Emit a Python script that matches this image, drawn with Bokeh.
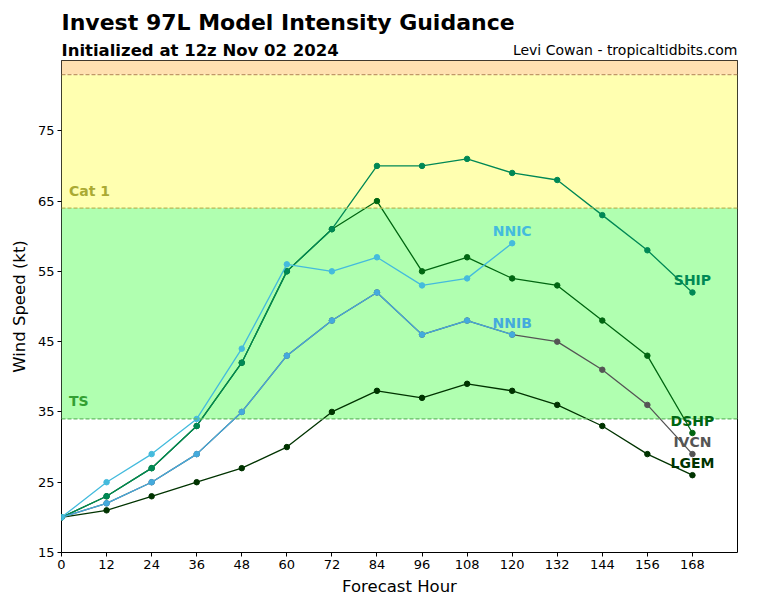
from bokeh.plotting import figure
from bokeh.layouts import column
from bokeh.models import BoxAnnotation, Span, Label, FixedTicker, Range1d, ColumnDataSource
from bokeh.embed import file_html
from bokeh.resources import INLINE

# ---- data ----
hours = [0, 12, 24, 36, 48, 60, 72, 84, 96, 108, 120, 132, 144, 156, 168]
ship = [20, 23, 27, 33, 42, 55, 61, 70, 70, 71, 69, 68, 63, 58, 52]
dshp = [20, 23, 27, 33, 42, 55, 61, 65, 55, 57, 54, 53, 48, 43, 32]
ivcn = [20, 22, 25, 29, 35, 43, 48, 52, 46, 48, 46, 45, 41, 36, 29]
lgem = [20, 21, 23, 25, 27, 30, 35, 38, 37, 39, 38, 36, 33, 29, 26]
nnic = [20, 25, 29, 34, 44, 56, 55, 57, 53, 54, 59]
nnib = [20, 22, 25, 29, 35, 43, 48, 52, 46, 48, 46]

model_names = ["LGEM", "IVCN", "DSHP", "SHIP", "NNIB", "NNIC"]
model_values = [lgem, ivcn, dshp, ship, nnib, nnic]
model_colors = ["#003300", "#555555", "#006611", "#008855", "#44aadd", "#44bbdd"]

thresholds = [34, 64, 83]          # TS, Cat 1, Cat 2
band_labels = ["TS", "Cat 1", ""]
band_fill = ["#b0ffb0", "#ffffb0", "#ffe0b0"]
band_line = ["#66bb66", "#b8b855", "#c09868"]
band_text = ["#33a033", "#aaaa33", "#aa7733"]

x_ticks = list(range(0, 169, 12))
y_ticks = [15, 25, 35, 45, 55, 65, 75]
x_min, x_max = 0, 180
y_min, y_max = 15, 85

title_text = "Invest 97L Model Intensity Guidance"
subtitle_text = "Initialized at 12z Nov 02 2024"
credit_text = "Levi Cowan - tropicaltidbits.com"

FONT = "DejaVu Sans"
W = 768
HEADER_H = 60
ML, MR = 61, 31

# ---- header (titles) ----
hdr = figure(width=W, height=HEADER_H, output_backend="svg", toolbar_location=None,
             x_range=Range1d(x_min, x_max), y_range=Range1d(HEADER_H, 0),
             min_border_left=ML, min_border_right=MR, min_border_top=0, min_border_bottom=0)
hdr.axis.visible = False
hdr.grid.visible = False
hdr.outline_line_color = None
hdr.background_fill_color = "white"
hdr.border_fill_color = "white"
hdr.add_layout(Label(x=x_min, y=22, text=title_text, text_font=FONT, text_font_size="22px",
                     text_font_style="bold", text_color="black", text_baseline="middle"))
hdr.add_layout(Label(x=x_min, y=49.5, text=subtitle_text, text_font=FONT,
                     text_font_size="16.5px", text_font_style="bold", text_color="black",
                     text_baseline="middle"))
hdr.add_layout(Label(x=x_max, y=49.5, text=credit_text, text_font=FONT,
                     text_font_size="14px", text_color="black", text_align="right",
                     text_baseline="middle"))

# ---- main chart ----
p = figure(width=W, height=600 - HEADER_H, output_backend="svg", toolbar_location=None,
           x_range=Range1d(x_min, x_max), y_range=Range1d(y_min, y_max),
           min_border_left=ML, min_border_right=MR, min_border_top=0, min_border_bottom=48)
p.background_fill_color = "white"
p.border_fill_color = "white"
p.outline_line_color = "black"
p.outline_line_width = 1
p.xgrid.visible = False
p.ygrid.visible = False

# bands
tops = thresholds[1:] + [y_max]
for lo, hi, fc in zip(thresholds, tops, band_fill):
    p.add_layout(BoxAnnotation(bottom=lo, top=hi, fill_color=fc, fill_alpha=1.0,
                               line_alpha=0, level="underlay"))
for t, lc in zip(thresholds, band_line):
    p.add_layout(Span(location=t, dimension="width", line_color=lc,
                      line_dash="4 2", line_width=1.2))
for t, lab, tc in zip(thresholds, band_labels, band_text):
    if lab:
        p.add_layout(Label(x=2, y=t + 2.5, text=lab, text_color=tc, text_font=FONT,
                           text_font_size="14px", text_font_style="bold",
                           text_baseline="middle"))

# model lines
for name, vals, col in zip(model_names, model_values, model_colors):
    xs = hours[:len(vals)]
    src = ColumnDataSource(dict(x=xs, y=vals))
    p.line("x", "y", source=src, line_color=col, line_width=1.3)
    p.scatter("x", "y", source=src, size=5.5, fill_color=col, line_color=col)
    p.add_layout(Label(x=xs[-1], y=vals[-1] + 1.7, text=name, text_color=col,
                       text_font=FONT, text_font_size="14px", text_font_style="bold",
                       text_align="center", text_baseline="middle"))

# axes
p.xaxis.ticker = FixedTicker(ticks=x_ticks)
p.yaxis.ticker = FixedTicker(ticks=y_ticks)
for ax in (p.xaxis, p.yaxis):
    ax.major_tick_in = 0
    ax.major_tick_out = 4
    ax.minor_tick_line_color = None
    ax.major_label_text_font = FONT
    ax.major_label_text_font_size = "13px"
    ax.major_label_text_color = "black"
    ax.axis_label_text_font = FONT
    ax.axis_label_text_font_size = "16.5px"
    ax.axis_label_text_font_style = "normal"
    ax.axis_label_text_color = "black"
    ax.axis_line_color = None
    ax.major_label_standoff = 3
p.xaxis.axis_label = "Forecast Hour"
p.yaxis.axis_label = "Wind Speed (kt)"
p.xaxis.axis_label_standoff = 5
p.yaxis.axis_label_standoff = 6

layout = column(hdr, p, spacing=0)
open("out.html", "w").write(file_html(layout, INLINE))
